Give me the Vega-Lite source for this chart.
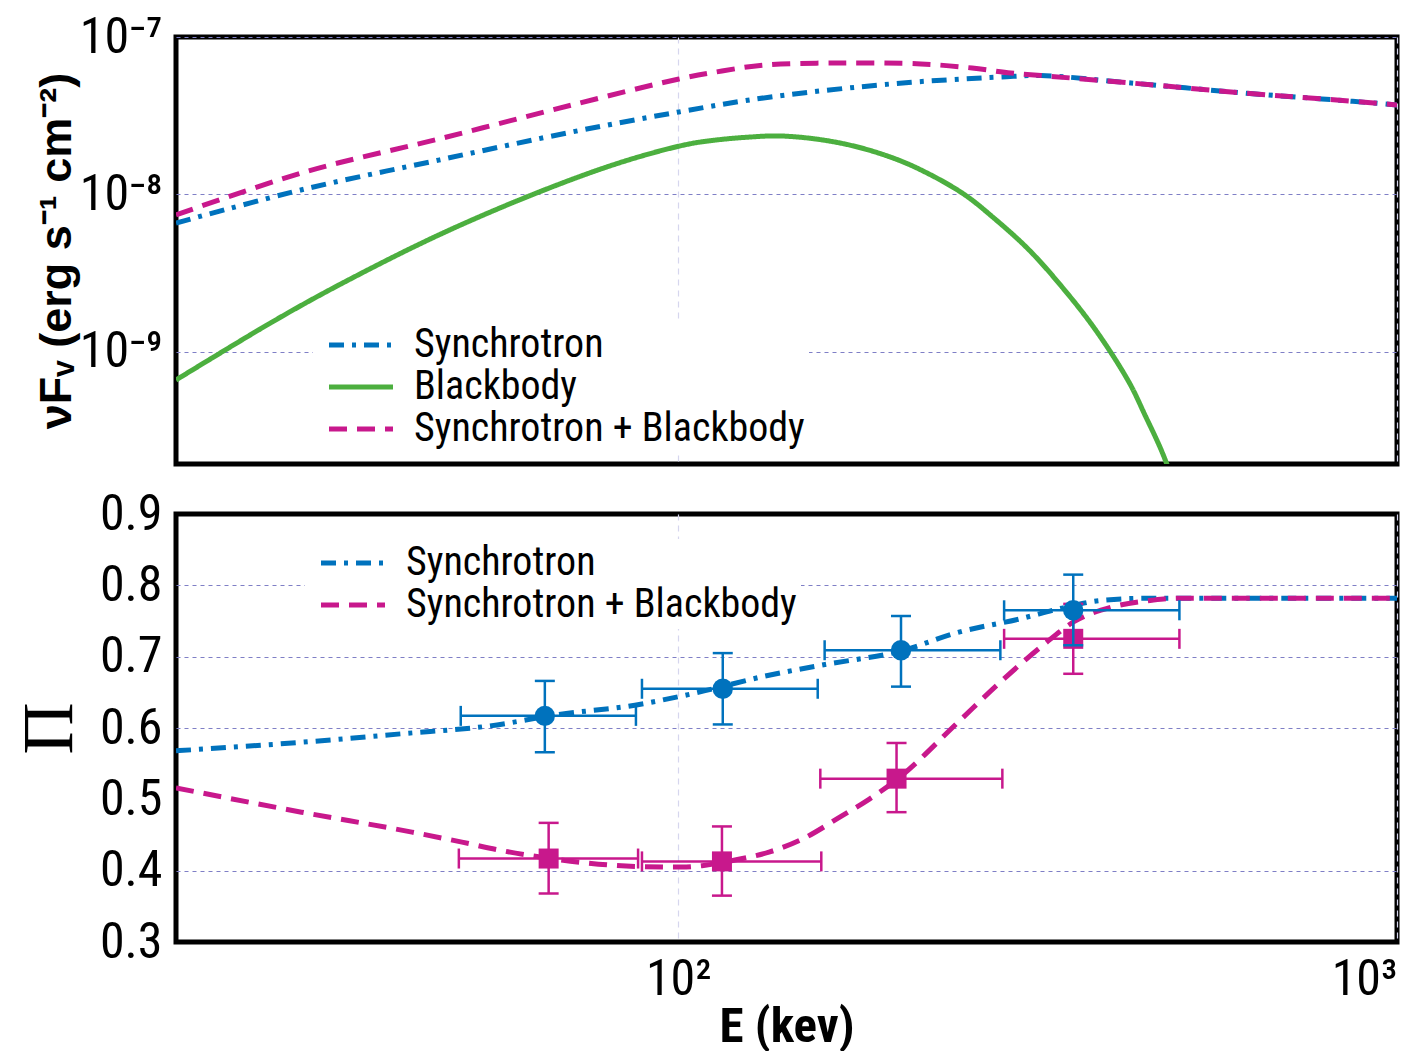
{
  "$schema": "https://vega.github.io/schema/vega-lite/v6.json",
  "background": "white",
  "padding": {"left": 10, "top": 9, "right": 11, "bottom": 2},
  "spacing": 50,
  "bounds": "flush",
  "config": {
    "font": "Roboto Condensed, DejaVu Sans Condensed, Liberation Sans Narrow, Arial Narrow, Roboto, sans-serif",
    "view": {"stroke": "black", "strokeWidth": 5},
    "axis": {"labelFont": "Roboto Condensed, DejaVu Sans Condensed, Liberation Sans Narrow, Arial Narrow, Roboto, sans-serif", "labelFontSize": 50, "labelColor": "black", "ticks": false, "domain": false, "labelOverlap": false, "titleColor": "black"},
    "legend": {"labelFont": "Roboto Condensed, DejaVu Sans Condensed, Liberation Sans Narrow, Arial Narrow, Roboto, sans-serif", "labelFontSize": 40, "labelColor": "black", "labelLimit": 700}
  },
  "resolve": {
    "scale": {"color": "independent", "strokeDash": "independent", "x": "independent", "y": "independent"},
    "legend": {"color": "independent", "strokeDash": "independent"}
  },
  "datasets": {
    "spec": [
      {"model": "Synchrotron", "E": 20, "F": 6.57e-9},
      {"model": "Synchrotron", "E": 30.2, "F": 1.08e-8},
      {"model": "Synchrotron", "E": 46.4, "F": 1.65e-8},
      {"model": "Synchrotron", "E": 71.1, "F": 2.49e-8},
      {"model": "Synchrotron", "E": 100.2, "F": 3.34e-8},
      {"model": "Synchrotron", "E": 134.5, "F": 4.16e-8},
      {"model": "Synchrotron", "E": 197.6, "F": 5.03e-8},
      {"model": "Synchrotron", "E": 248.2, "F": 5.41e-8},
      {"model": "Synchrotron", "E": 282.1, "F": 5.57e-8},
      {"model": "Synchrotron", "E": 319.6, "F": 5.69e-8},
      {"model": "Synchrotron", "E": 426.4, "F": 5.10e-8},
      {"model": "Synchrotron", "E": 624.4, "F": 4.37e-8},
      {"model": "Synchrotron", "E": 786, "F": 4.04e-8},
      {"model": "Synchrotron", "E": 1000, "F": 3.70e-8},
      {"model": "Blackbody", "E": 20, "F": 6.6e-10},
      {"model": "Blackbody", "E": 27.2, "F": 1.54e-9},
      {"model": "Blackbody", "E": 33.7, "F": 2.65e-9},
      {"model": "Blackbody", "E": 46.4, "F": 5.51e-9},
      {"model": "Blackbody", "E": 64.0, "F": 1.034e-8},
      {"model": "Blackbody", "E": 83.5, "F": 1.605e-8},
      {"model": "Blackbody", "E": 102.5, "F": 2.07e-8},
      {"model": "Blackbody", "E": 112.5, "F": 2.21e-8},
      {"model": "Blackbody", "E": 125.4, "F": 2.31e-8},
      {"model": "Blackbody", "E": 138.0, "F": 2.35e-8},
      {"model": "Blackbody", "E": 155.0, "F": 2.25e-8},
      {"model": "Blackbody", "E": 172.8, "F": 2.06e-8},
      {"model": "Blackbody", "E": 192.0, "F": 1.80e-8},
      {"model": "Blackbody", "E": 213.4, "F": 1.49e-8},
      {"model": "Blackbody", "E": 248.2, "F": 1.02e-8},
      {"model": "Blackbody", "E": 275.8, "F": 6.97e-9},
      {"model": "Blackbody", "E": 307.6, "F": 4.43e-9},
      {"model": "Blackbody", "E": 341.8, "F": 2.58e-9},
      {"model": "Blackbody", "E": 380.0, "F": 1.39e-9},
      {"model": "Blackbody", "E": 423.6, "F": 6.41e-10},
      {"model": "Blackbody", "E": 446.0, "F": 3.95e-10},
      {"model": "Blackbody", "E": 471.1, "F": 2.30e-10},
      {"model": "Blackbody", "E": 494.2, "F": 1.28e-10},
      {"model": "Synchrotron + Blackbody", "E": 20, "F": 7.39e-9},
      {"model": "Synchrotron + Blackbody", "E": 30.2, "F": 1.386e-8},
      {"model": "Synchrotron + Blackbody", "E": 46.4, "F": 2.247e-8},
      {"model": "Synchrotron + Blackbody", "E": 71.1, "F": 3.695e-8},
      {"model": "Synchrotron + Blackbody", "E": 100.2, "F": 5.41e-8},
      {"model": "Synchrotron + Blackbody", "E": 115.0, "F": 6.08e-8},
      {"model": "Synchrotron + Blackbody", "E": 132.0, "F": 6.64e-8},
      {"model": "Synchrotron + Blackbody", "E": 168.9, "F": 6.84e-8},
      {"model": "Synchrotron + Blackbody", "E": 217.6, "F": 6.74e-8},
      {"model": "Synchrotron + Blackbody", "E": 256.3, "F": 6.35e-8},
      {"model": "Synchrotron + Blackbody", "E": 290.3, "F": 5.90e-8},
      {"model": "Synchrotron + Blackbody", "E": 319.6, "F": 5.69e-8},
      {"model": "Synchrotron + Blackbody", "E": 426.4, "F": 5.10e-8},
      {"model": "Synchrotron + Blackbody", "E": 624.4, "F": 4.37e-8},
      {"model": "Synchrotron + Blackbody", "E": 786, "F": 4.04e-8},
      {"model": "Synchrotron + Blackbody", "E": 1000, "F": 3.70e-8}
    ],
    "pol": [
      {"model": "Synchrotron", "E": 20, "Pi": 0.568},
      {"model": "Synchrotron", "E": 29.9, "Pi": 0.580},
      {"model": "Synchrotron", "E": 41.3, "Pi": 0.592},
      {"model": "Synchrotron", "E": 54.7, "Pi": 0.603},
      {"model": "Synchrotron", "E": 68.2, "Pi": 0.619},
      {"model": "Synchrotron", "E": 87.0, "Pi": 0.632},
      {"model": "Synchrotron", "E": 104.5, "Pi": 0.648},
      {"model": "Synchrotron", "E": 133.7, "Pi": 0.674},
      {"model": "Synchrotron", "E": 160.0, "Pi": 0.689},
      {"model": "Synchrotron", "E": 204.1, "Pi": 0.708},
      {"model": "Synchrotron", "E": 245.0, "Pi": 0.734},
      {"model": "Synchrotron", "E": 298.8, "Pi": 0.753},
      {"model": "Synchrotron", "E": 341.8, "Pi": 0.768},
      {"model": "Synchrotron", "E": 388.6, "Pi": 0.779},
      {"model": "Synchrotron", "E": 456.0, "Pi": 0.782},
      {"model": "Synchrotron", "E": 1000, "Pi": 0.782},
      {"model": "Synchrotron + Blackbody", "E": 20, "Pi": 0.516},
      {"model": "Synchrotron + Blackbody", "E": 29.9, "Pi": 0.482},
      {"model": "Synchrotron + Blackbody", "E": 42.6, "Pi": 0.454},
      {"model": "Synchrotron + Blackbody", "E": 50.0, "Pi": 0.440},
      {"model": "Synchrotron + Blackbody", "E": 56.9, "Pi": 0.428},
      {"model": "Synchrotron + Blackbody", "E": 65.3, "Pi": 0.418},
      {"model": "Synchrotron + Blackbody", "E": 74.2, "Pi": 0.411},
      {"model": "Synchrotron + Blackbody", "E": 87.0, "Pi": 0.406},
      {"model": "Synchrotron + Blackbody", "E": 101.2, "Pi": 0.405},
      {"model": "Synchrotron + Blackbody", "E": 107.9, "Pi": 0.407},
      {"model": "Synchrotron + Blackbody", "E": 119.9, "Pi": 0.415},
      {"model": "Synchrotron + Blackbody", "E": 133.7, "Pi": 0.426},
      {"model": "Synchrotron + Blackbody", "E": 148.6, "Pi": 0.444},
      {"model": "Synchrotron + Blackbody", "E": 168.4, "Pi": 0.476},
      {"model": "Synchrotron + Blackbody", "E": 184.2, "Pi": 0.500},
      {"model": "Synchrotron + Blackbody", "E": 201.5, "Pi": 0.528},
      {"model": "Synchrotron + Blackbody", "E": 245.0, "Pi": 0.608},
      {"model": "Synchrotron + Blackbody", "E": 277.6, "Pi": 0.660},
      {"model": "Synchrotron + Blackbody", "E": 321.6, "Pi": 0.716},
      {"model": "Synchrotron + Blackbody", "E": 355.2, "Pi": 0.749},
      {"model": "Synchrotron + Blackbody", "E": 402.5, "Pi": 0.770},
      {"model": "Synchrotron + Blackbody", "E": 456.0, "Pi": 0.779},
      {"model": "Synchrotron + Blackbody", "E": 497.5, "Pi": 0.782},
      {"model": "Synchrotron + Blackbody", "E": 1000, "Pi": 0.782}
    ],
    "obs": [
      {"model": "Synchrotron", "E": 65.2, "Elo": 49.8, "Ehi": 87.3, "Pi": 0.617, "Plo": 0.566, "Phi": 0.666},
      {"model": "Synchrotron", "E": 115.3, "Elo": 89.0, "Ehi": 156.3, "Pi": 0.655, "Plo": 0.605, "Phi": 0.705},
      {"model": "Synchrotron", "E": 204.1, "Elo": 159.8, "Ehi": 280.6, "Pi": 0.709, "Plo": 0.658, "Phi": 0.757},
      {"model": "Synchrotron", "E": 354.4, "Elo": 284, "Ehi": 498, "Pi": 0.765, "Plo": 0.716, "Phi": 0.815},
      {"model": "Synchrotron + Blackbody", "E": 66.0, "Elo": 49.5, "Ehi": 87.9, "Pi": 0.417, "Plo": 0.368, "Phi": 0.467},
      {"model": "Synchrotron + Blackbody", "E": 115.0, "Elo": 89.0, "Ehi": 158.1, "Pi": 0.413, "Plo": 0.365, "Phi": 0.462},
      {"model": "Synchrotron + Blackbody", "E": 201.2, "Elo": 157.6, "Ehi": 282.4, "Pi": 0.529, "Plo": 0.482, "Phi": 0.579},
      {"model": "Synchrotron + Blackbody", "E": 354.4, "Elo": 284, "Ehi": 498, "Pi": 0.725, "Plo": 0.676, "Phi": 0.774}
    ]
  },
  "vconcat": [
    {
      "width": 1221,
      "height": 427,
      "data": {"name": "spec"},
      "mark": {"type": "line", "strokeWidth": 5, "clip": true, "interpolate": "catmull-rom"},
      "encoding": {
        "x": {"field": "E", "type": "quantitative",
          "scale": {"type": "log", "domain": [20, 1000], "nice": false},
          "axis": {"values": [100, 1000], "labels": false, "title": null, "grid": true, "gridColor": "#d6d6ee", "gridDash": [6, 5], "gridWidth": 1.2}},
        "y": {"field": "F", "type": "quantitative",
          "scale": {"type": "log", "domain": [1.93e-10, 1e-7], "nice": false},
          "axis": {"values": [1e-9, 1e-8, 1e-7],
            "labelExpr": "datum.value > 5e-8 ? '10⁻⁷' : (datum.value > 5e-9 ? '10⁻⁸' : '10⁻⁹')",
            "grid": true, "gridColor": "#7f7fc6", "gridDash": [4, 4], "gridWidth": 1.2,
            "title": "νFᵥ (erg s⁻¹ cm⁻²)", "titleFont": "Liberation Sans, Arial, sans-serif", "titleFontWeight": "bold", "titleFontSize": 45, "titlePadding": 7,
            "labelPadding": 14, "minExtent": 90, "maxExtent": 90}},
        "color": {"field": "model", "type": "nominal",
          "scale": {"domain": ["Synchrotron", "Blackbody", "Synchrotron + Blackbody"], "range": ["#0072BD", "#4CAF3F", "#C8188C"]},
          "legend": {"orient": "none", "legendX": 137, "legendY": 284, "title": null, "symbolType": "M-4,0L4,0", "symbolSize": 256, "symbolStrokeWidth": 5, "symbolOffset": 24, "labelOffset": 33, "fillColor": "white", "padding": 4, "rowPadding": 2}},
        "strokeDash": {"field": "model", "type": "nominal",
          "scale": {"domain": ["Synchrotron", "Blackbody", "Synchrotron + Blackbody"], "range": [[15, 8, 4, 8], [1, 0], [18, 10]]},
          "legend": {"orient": "none", "legendX": 137, "legendY": 284, "title": null, "symbolType": "M-4,0L4,0", "symbolSize": 256, "symbolStrokeWidth": 5, "symbolOffset": 24, "labelOffset": 33, "fillColor": "white", "padding": 4, "rowPadding": 2}}
      }
    },
    {
      "width": 1221,
      "height": 428,
      "layer": [
        {
          "data": {"name": "pol"},
          "mark": {"type": "line", "strokeWidth": 5, "clip": true, "interpolate": "monotone"},
          "encoding": {
            "x": {"field": "E", "type": "quantitative",
              "scale": {"type": "log", "domain": [20, 1000], "nice": false},
              "axis": {"values": [100, 1000], "labelExpr": "datum.value < 500 ? '10²' : '10³'", "labelPadding": 12, "labelFlush": true,
                "grid": true, "gridColor": "#d6d6ee", "gridDash": [6, 5], "gridWidth": 1.2,
                "title": "E (kev)", "titleFont": "Roboto Condensed, DejaVu Sans Condensed, Liberation Sans Narrow, Arial Narrow, Roboto, sans-serif", "titleFontWeight": "bold", "titleFontSize": 49, "titlePadding": -2}},
            "y": {"field": "Pi", "type": "quantitative",
              "scale": {"domain": [0.3, 0.9], "nice": false, "zero": false},
              "axis": {"values": [0.3, 0.4, 0.5, 0.6, 0.7, 0.8, 0.9], "format": ".1f",
                "grid": true, "gridColor": "#7f7fc6", "gridDash": [4, 4], "gridWidth": 1.2,
                "gridOpacity": {"condition": {"test": "datum.value < 0.35 || datum.value > 0.85 || (datum.value > 0.45 && datum.value < 0.55)", "value": 0}, "value": 1},
                "title": "Π", "titleFont": "Liberation Serif, serif", "titleFontWeight": "normal", "titleFontSize": 72, "titlePadding": 0,
                "labelPadding": 14, "minExtent": 90, "maxExtent": 90}},
            "color": {"field": "model", "type": "nominal",
              "scale": {"domain": ["Synchrotron", "Synchrotron + Blackbody"], "range": ["#0072BD", "#C8188C"]},
              "legend": {"orient": "none", "legendX": 129, "legendY": 25, "title": null, "symbolType": "M-4,0L4,0", "symbolSize": 256, "symbolStrokeWidth": 5, "symbolOffset": 24, "labelOffset": 33, "fillColor": "white", "padding": 4, "rowPadding": 2}},
            "strokeDash": {"field": "model", "type": "nominal",
              "scale": {"domain": ["Synchrotron", "Synchrotron + Blackbody"], "range": [[15, 8, 4, 8], [18, 10]]},
              "legend": {"orient": "none", "legendX": 129, "legendY": 25, "title": null, "symbolType": "M-4,0L4,0", "symbolSize": 256, "symbolStrokeWidth": 5, "symbolOffset": 24, "labelOffset": 33, "fillColor": "white", "padding": 4, "rowPadding": 2}}
          }
        },
        {
          "data": {"name": "obs"},
          "transform": [{"filter": "datum.model == 'Synchrotron + Blackbody'"}],
          "layer": [
            {"mark": {"type": "rule", "color": "#C8188C", "strokeWidth": 2.5},
             "encoding": {"x": {"field": "Elo", "type": "quantitative"}, "x2": {"field": "Ehi"}, "y": {"field": "Pi", "type": "quantitative"}}},
            {"mark": {"type": "rule", "color": "#C8188C", "strokeWidth": 2.5},
             "encoding": {"x": {"field": "E", "type": "quantitative"}, "y": {"field": "Plo", "type": "quantitative"}, "y2": {"field": "Phi"}}},
            {"mark": {"type": "tick", "orient": "vertical", "color": "#C8188C", "size": 20, "thickness": 2.5, "opacity": 1},
             "encoding": {"x": {"field": "Elo", "type": "quantitative"}, "y": {"field": "Pi", "type": "quantitative"}}},
            {"mark": {"type": "tick", "orient": "vertical", "color": "#C8188C", "size": 20, "thickness": 2.5, "opacity": 1},
             "encoding": {"x": {"field": "Ehi", "type": "quantitative"}, "y": {"field": "Pi", "type": "quantitative"}}},
            {"mark": {"type": "tick", "orient": "horizontal", "color": "#C8188C", "size": 20, "thickness": 2.5, "opacity": 1},
             "encoding": {"x": {"field": "E", "type": "quantitative"}, "y": {"field": "Plo", "type": "quantitative"}}},
            {"mark": {"type": "tick", "orient": "horizontal", "color": "#C8188C", "size": 20, "thickness": 2.5, "opacity": 1},
             "encoding": {"x": {"field": "E", "type": "quantitative"}, "y": {"field": "Phi", "type": "quantitative"}}},
            {"mark": {"type": "point", "shape": "square", "filled": true, "size": 400, "color": "#C8188C", "opacity": 1},
             "encoding": {"x": {"field": "E", "type": "quantitative"}, "y": {"field": "Pi", "type": "quantitative"}}}
          ]
        },
        {
          "data": {"name": "obs"},
          "transform": [{"filter": "datum.model == 'Synchrotron'"}],
          "layer": [
            {"mark": {"type": "rule", "color": "#0072BD", "strokeWidth": 2.5},
             "encoding": {"x": {"field": "Elo", "type": "quantitative"}, "x2": {"field": "Ehi"}, "y": {"field": "Pi", "type": "quantitative"}}},
            {"mark": {"type": "rule", "color": "#0072BD", "strokeWidth": 2.5},
             "encoding": {"x": {"field": "E", "type": "quantitative"}, "y": {"field": "Plo", "type": "quantitative"}, "y2": {"field": "Phi"}}},
            {"mark": {"type": "tick", "orient": "vertical", "color": "#0072BD", "size": 20, "thickness": 2.5, "opacity": 1},
             "encoding": {"x": {"field": "Elo", "type": "quantitative"}, "y": {"field": "Pi", "type": "quantitative"}}},
            {"mark": {"type": "tick", "orient": "vertical", "color": "#0072BD", "size": 20, "thickness": 2.5, "opacity": 1},
             "encoding": {"x": {"field": "Ehi", "type": "quantitative"}, "y": {"field": "Pi", "type": "quantitative"}}},
            {"mark": {"type": "tick", "orient": "horizontal", "color": "#0072BD", "size": 20, "thickness": 2.5, "opacity": 1},
             "encoding": {"x": {"field": "E", "type": "quantitative"}, "y": {"field": "Plo", "type": "quantitative"}}},
            {"mark": {"type": "tick", "orient": "horizontal", "color": "#0072BD", "size": 20, "thickness": 2.5, "opacity": 1},
             "encoding": {"x": {"field": "E", "type": "quantitative"}, "y": {"field": "Phi", "type": "quantitative"}}},
            {"mark": {"type": "point", "shape": "circle", "filled": true, "size": 415, "color": "#0072BD", "opacity": 1},
             "encoding": {"x": {"field": "E", "type": "quantitative"}, "y": {"field": "Pi", "type": "quantitative"}}}
          ]
        }
      ]
    }
  ]
}
